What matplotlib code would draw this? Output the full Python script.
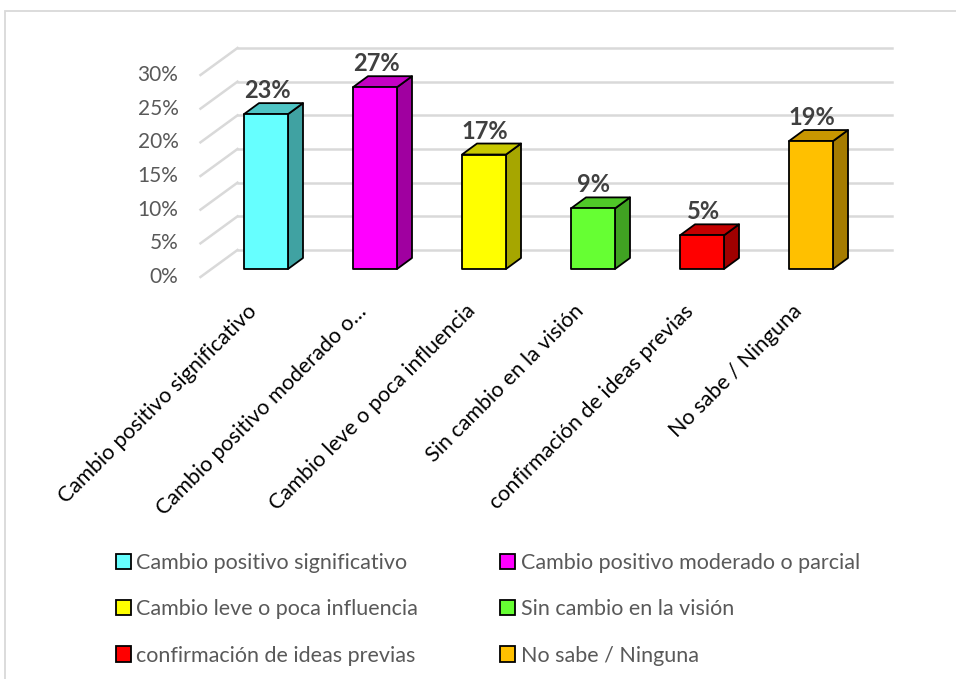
import matplotlib
matplotlib.use("Agg")
import matplotlib.pyplot as plt
from matplotlib.patches import Polygon, Patch, Rectangle
from matplotlib.lines import Line2D

# ---------------- data ----------------
categories = ["Cambio positivo significativo",
              "Cambio positivo moderado o parcial",
              "Cambio leve o poca influencia",
              "Sin cambio en la visión",
              "confirmación de ideas previas",
              "No sabe / Ninguna"]
axis_labels = ["Cambio positivo significativo",
               "Cambio positivo moderado o…",
               "Cambio leve o poca influencia",
               "Sin cambio en la visión",
               "confirmación de ideas previas",
               "No sabe / Ninguna"]
values = [0.23, 0.27, 0.17, 0.09, 0.05, 0.19]
value_labels = ["23%", "27%", "17%", "9%", "5%", "19%"]
yticks = [0.0, 0.05, 0.10, 0.15, 0.20, 0.25, 0.30]
ytick_labels = ["0%", "5%", "10%", "15%", "20%", "25%", "30%"]

front_colors = ["#66FFFF", "#FF00FF", "#FFFF00", "#66FF33", "#FF0000", "#FFC000"]
top_colors = ["#4EC4C4", "#C400C4", "#C8C800", "#50C828", "#C40000", "#C89600"]
side_colors = ["#40A2A2", "#A000A0", "#A6A600", "#40A222", "#A00000", "#A67C00"]

FONT = "Lato"
W, H = 956, 679
fig = plt.figure(figsize=(W / 100, H / 100), dpi=100)

# axes = plane of the bar fronts (pixels)
x_left_px, x_right_px = 211.5, 865.5
y0_px, y30_px = 269, 67
ax = fig.add_axes([x_left_px / W, (H - y0_px) / H,
                   (x_right_px - x_left_px) / W, (y0_px - y30_px) / H])
n = len(values)
ax.set_xlim(-0.5, n - 0.5)
ax.set_ylim(0, 0.30)
ax.axis("off")

px_x = n / (x_right_px - x_left_px)     # data units per pixel (x)
px_y = 0.30 / (y0_px - y30_px)          # data units per pixel (y)

def off(dx_px, dy_px):
    return dx_px * px_x, dy_px * px_y

back_dx, back_dy = off(26, 19)
front_dx, front_dy = off(-11, -8)
bar_dx, bar_dy = off(15, 11)
bar_w = 44 * px_x

grid_col = "#D9D9D9"
xl, xr = -0.5, n - 0.5
for t, lab in zip(yticks, ytick_labels):
    ax.add_line(Line2D([xl + back_dx, xr + back_dx], [t + back_dy, t + back_dy],
                       color=grid_col, lw=1.8, clip_on=False, zorder=1))
    ax.add_line(Line2D([xl + front_dx, xl + back_dx], [t + front_dy, t + back_dy],
                       color=grid_col, lw=1.8, clip_on=False, zorder=1))
    lx, ly = off(-22, 0)
    ax.text(xl + front_dx + lx, t + front_dy, lab, ha="right", va="center",
            fontsize=15, color="#595959", family=FONT, clip_on=False)

for i, v in enumerate(values):
    x0, x1 = i - bar_w / 2, i + bar_w / 2
    front = Polygon([(x0, 0), (x1, 0), (x1, v), (x0, v)], closed=True,
                    facecolor=front_colors[i], edgecolor="black", lw=1.3,
                    joinstyle="round", clip_on=False, zorder=3)
    top = Polygon([(x0, v), (x1, v), (x1 + bar_dx, v + bar_dy), (x0 + bar_dx, v + bar_dy)],
                  closed=True, facecolor=top_colors[i], edgecolor="black", lw=1.3,
                  joinstyle="round", clip_on=False, zorder=3)
    side = Polygon([(x1, 0), (x1 + bar_dx, bar_dy), (x1 + bar_dx, v + bar_dy), (x1, v)],
                   closed=True, facecolor=side_colors[i], edgecolor="black", lw=1.3,
                   joinstyle="round", clip_on=False, zorder=3)
    for p in (side, top, front):
        ax.add_patch(p)
    _, ly = off(0, 5)
    ax.text(i + 1 * px_x, v + bar_dy + ly, value_labels[i], ha="center", va="baseline",
            fontsize=17, fontweight="bold", color="#404040", family=FONT, zorder=4)
    cx, cy = off(-12, -39)
    ax.text(i + cx, cy, axis_labels[i], rotation=45, rotation_mode="anchor",
            ha="right", va="center", fontsize=15.5, color="#000000", family=FONT,
            clip_on=False)

# legend (row-major order like the reference)
handles = [Patch(facecolor=c, edgecolor="black", lw=1.3) for c in front_colors]
order = [0, 2, 4, 1, 3, 5]
leg = fig.legend([handles[k] for k in order], [categories[k] for k in order],
                 ncol=2, loc="upper left", bbox_to_anchor=(116 / W, 1 - 553 / H),
                 frameon=False, prop={"family": FONT, "size": 15.5},
                 handlelength=0.7, handleheight=0.7, handletextpad=0.25,
                 labelspacing=1.22, columnspacing=3.8, borderaxespad=0, borderpad=0)
for t in leg.get_texts():
    t.set_color("#595959")

# chart area border
fig.add_artist(Rectangle((5 / W, -0.1), 1.2, 1 - 11 / H + 0.1, transform=fig.transFigure,
                         fill=False, edgecolor="#D9D9D9", lw=1.3))

fig.savefig("out.png", dpi=100)
